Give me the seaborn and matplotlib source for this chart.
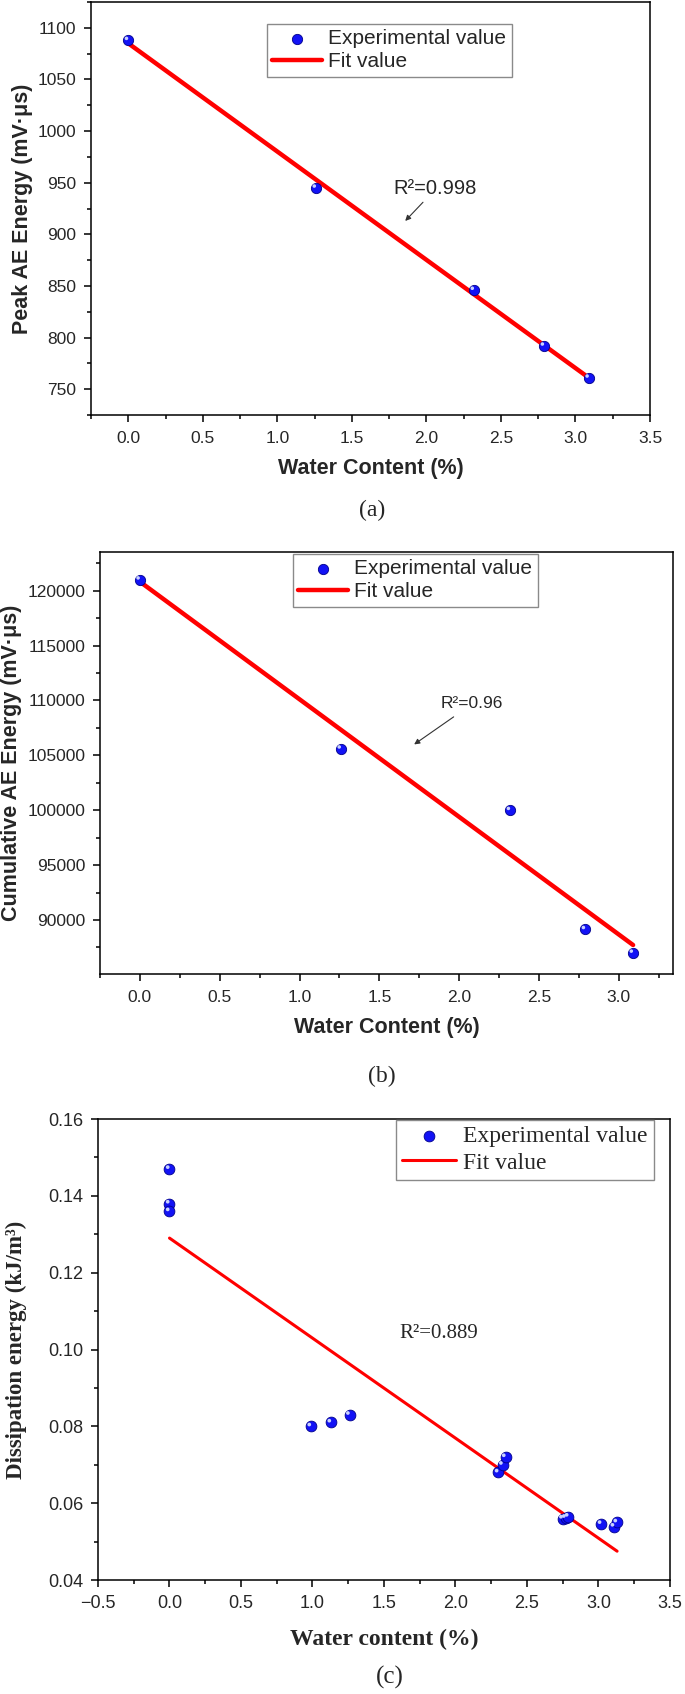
import matplotlib
matplotlib.use("Agg")
import matplotlib.pyplot as plt
from matplotlib.ticker import MultipleLocator, FuncFormatter
from matplotlib.transforms import ScaledTranslation
import seaborn as sns

# ---- data ----
# (a) peak AE energy
water_a = [0.0, 1.26, 2.32, 2.79, 3.09]
peak_energy = [1088, 945, 846, 792, 761]
fit_a_x = [0.0, 3.09]
fit_a_y = [1085, 761]

# (b) cumulative AE energy
water_b = [0.0, 1.26, 2.32, 2.79, 3.09]
cum_energy = [121000, 105600, 100000, 89150, 87000]
fit_b_x = [0.0, 3.09]
fit_b_y = [120820, 87720]

# (c) dissipation energy
water_c = [0.0, 0.0, 0.0, 0.99, 1.13, 1.26, 2.30, 2.33, 2.35,
           2.75, 2.77, 2.79, 3.02, 3.11, 3.13]
dissipation = [0.147, 0.138, 0.136, 0.080, 0.081, 0.083, 0.068, 0.070, 0.072,
               0.0560, 0.0562, 0.0565, 0.0546, 0.0539, 0.0550]
fit_c_x = [0.0, 3.13]
fit_c_y = [0.129, 0.0475]

SANS = ["Liberation Sans", "DejaVu Sans"]
SERIF = ["Liberation Serif", "DejaVu Serif"]
BLUE = "#1212f5"
RED = "#ff0000"

sns.set_style("ticks")
plt.rcParams["font.family"] = SANS

W, H = 685, 1694
fig = plt.figure(figsize=(W / 100, H / 100), dpi=100)


def px_axes(left, top, right, bottom):
    return fig.add_axes([left / W, 1 - bottom / H, (right - left) / W, (bottom - top) / H])


def style_axes(ax, tick_fs, xpad, ypad):
    for s in ax.spines.values():
        s.set_visible(True)
        s.set_linewidth(1.1)
        s.set_color("black")
    ax.tick_params(which="both", direction="out", top=False, right=False,
                   width=1.1, color="black", labelsize=tick_fs)
    ax.tick_params(which="major", length=5)
    ax.tick_params(which="minor", length=2.8)
    ax.tick_params(axis="x", which="major", pad=xpad)
    ax.tick_params(axis="y", which="major", pad=ypad)
    ax.grid(False)


def balls(ax, x, y, size):
    # blue spheres with a small highlight, like the shaded markers of the original
    sns.scatterplot(x=x, y=y, color=BLUE, s=size, edgecolor="#00008b",
                    linewidth=0.6, ax=ax, label="Experimental value", zorder=4)
    sns.scatterplot(x=x, y=y, color="#c9d2ff", s=size * 0.12, edgecolor="none",
                    ax=ax, zorder=5, legend=False)
    hi = ax.collections[-1]
    hi.set_offset_transform(ax.transData + ScaledTranslation(-1.3 / 72, 1.3 / 72,
                                                             fig.dpi_scale_trans))


def add_legend(ax, left, top, fs, family, handlelength):
    h, l = ax.get_legend_handles_labels()
    order = [l.index("Experimental value"), l.index("Fit value")]
    leg = ax.legend([h[i] for i in order], [l[i] for i in order], loc="upper left",
                    bbox_to_anchor=(left / W, 1 - top / H),
                    bbox_transform=fig.transFigure, borderaxespad=0, fancybox=False,
                    edgecolor="#8a8a8a", framealpha=1, borderpad=0.25, labelspacing=0.2,
                    handlelength=handlelength, handletextpad=0.3, scatterpoints=1,
                    prop={"family": family, "size": fs})
    leg.get_frame().set_linewidth(1.0)
    return leg


# ================= (a) =================
ax1 = px_axes(91, 2, 650, 415)
sns.lineplot(x=fit_a_x, y=fit_a_y, color=RED, lw=3.2, ax=ax1, label="Fit value", zorder=3)
balls(ax1, water_a, peak_energy, 55)
ax1.set_xlim(-0.25, 3.5)
ax1.set_ylim(725, 1125)
ax1.xaxis.set_major_locator(MultipleLocator(0.5))
ax1.xaxis.set_minor_locator(MultipleLocator(0.25))
ax1.yaxis.set_major_locator(MultipleLocator(50))
ax1.yaxis.set_minor_locator(MultipleLocator(25))
style_axes(ax1, 12.5, 6.5, 5.5)
ax1.set_xlabel("Water Content (%)", fontsize=15.5, fontweight="bold", va="center")
ax1.set_ylabel("Peak AE Energy (mV·μs)", fontsize=15.5, fontweight="bold", va="center")
ax1.xaxis.set_label_coords(0.5, (415 - 468) / 413)
ax1.yaxis.set_label_coords((23 - 91) / 559, 0.5)
ax1.text(1.78, 944, "R²=0.998", fontsize=14.5, va="center", ha="left")
ax1.annotate("", xy=(1.845, 911), xytext=(1.99, 933),
             arrowprops=dict(arrowstyle="-|>", color="#333333", lw=0.8, mutation_scale=8))
add_legend(ax1, 267, 24, 15, SANS, 2.4)
fig.text(372 / W, 1 - 510 / H, "(a)", family=SERIF, fontsize=17, ha="center", va="center")

# ================= (b) =================
ax2 = px_axes(100, 552, 673, 974)
sns.lineplot(x=fit_b_x, y=fit_b_y, color=RED, lw=3.2, ax=ax2, label="Fit value", zorder=3)
balls(ax2, water_b, cum_energy, 55)
ax2.set_xlim(-0.25, 3.34)
ax2.set_ylim(85080, 123525)
ax2.xaxis.set_major_locator(MultipleLocator(0.5))
ax2.xaxis.set_minor_locator(MultipleLocator(0.25))
ax2.yaxis.set_major_locator(MultipleLocator(5000))
ax2.yaxis.set_minor_locator(MultipleLocator(2500))
style_axes(ax2, 12.5, 6.5, 5.5)
ax2.set_xlabel("Water Content (%)", fontsize=15.5, fontweight="bold", va="center")
ax2.set_ylabel("Cumulative AE Energy (mV·μs)", fontsize=15.5, fontweight="bold", va="center")
ax2.xaxis.set_label_coords(0.5, (974 - 1027) / 422)
ax2.yaxis.set_label_coords((12 - 100) / 573, 0.5)
ax2.text(1.887, 109740, "R²=0.96", fontsize=12.5, va="center", ha="left")
ax2.annotate("", xy=(1.704, 105850), xytext=(1.98, 108650),
             arrowprops=dict(arrowstyle="-|>", color="#333333", lw=0.8, mutation_scale=8))
add_legend(ax2, 293, 554, 15, SANS, 2.4)
fig.text(382 / W, 1 - 1076 / H, "(b)", family=SERIF, fontsize=17, ha="center", va="center")

# ================= (c) =================
ax3 = px_axes(98, 1119, 670, 1580)
sns.lineplot(x=fit_c_x, y=fit_c_y, color=RED, lw=2.2, ax=ax3, label="Fit value", zorder=3)
balls(ax3, water_c, dissipation, 60)
ax3.set_xlim(-0.5, 3.5)
ax3.set_ylim(0.04, 0.16)
ax3.xaxis.set_major_locator(MultipleLocator(0.5))
ax3.xaxis.set_minor_locator(MultipleLocator(0.25))
ax3.yaxis.set_major_locator(MultipleLocator(0.02))
ax3.yaxis.set_minor_locator(MultipleLocator(0.01))
style_axes(ax3, 13, 6, 5.5)
ax3.xaxis.set_major_formatter(FuncFormatter(lambda v, p: f"{v:.1f}".replace("-", "\u2212")))
ax3.set_xlabel("Water content (%)", family=SERIF, fontsize=17, fontweight="bold", va="center")
ax3.set_ylabel("Dissipation energy (kJ/m³)", family=SERIF, fontsize=16.5,
               fontweight="bold", va="center")
ax3.xaxis.set_label_coords(0.5, (1580 - 1639) / 461)
ax3.yaxis.set_label_coords((16 - 98) / 572, 0.5)
ax3.text(1.609, 0.1042, "R²=0.889", family=SERIF, fontsize=15, va="center", ha="left")
add_legend(ax3, 396, 1120, 17, SERIF, 2.3)
fig.text(390 / W, 1 - 1677 / H, "(c)", family=SERIF, fontsize=18, ha="center", va="center")

fig.savefig("out.png", dpi=100)
plt.close(fig)
